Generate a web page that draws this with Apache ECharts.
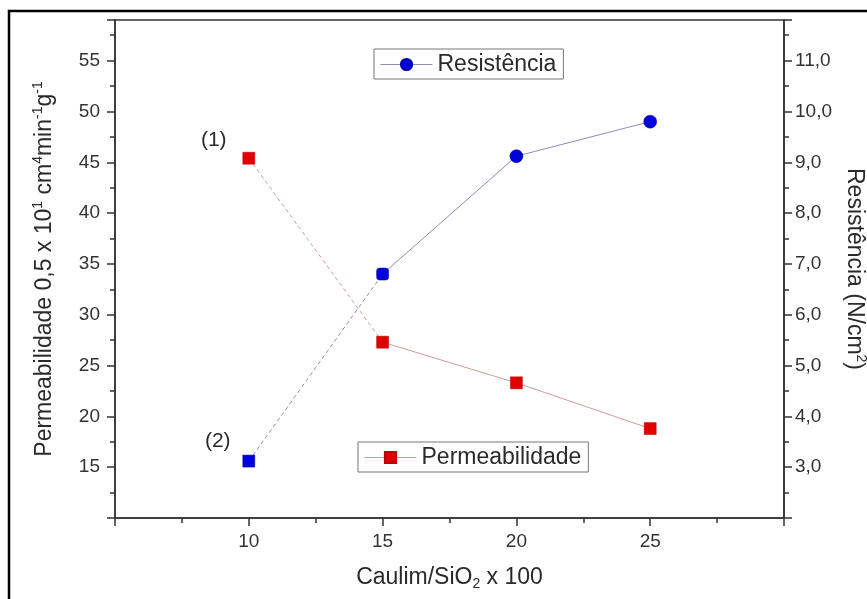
<!DOCTYPE html>
<html>
<head>
<meta charset="utf-8">
<script src="https://cdn.jsdelivr.net/npm/echarts@6/dist/echarts.min.js"></script>
<style>
  html, body { margin: 0; padding: 0; background: #fff; }
  #chart { width: 867px; height: 599px; }
</style>
</head>
<body>
<div id="chart"></div>
<script>
// Kaolin / SiO2 ratio (x 100)
const ratios = [10, 15, 20, 25];
// Permeability, left axis (0,5 x 10^1 cm4 min-1 g-1)
const permeabilidade = [45.4, 27.3, 23.3, 18.8];
// Strength, right axis (N/cm2)
const resistencia = [3.12, 6.8, 9.12, 9.8];
// Tick labels shown on each axis
const xTickLabels = ['10', '15', '20', '25'];
const leftTickLabels = ['15', '20', '25', '30', '35', '40', '45', '50', '55'];
const rightTickLabels = ['3,0', '4,0', '5,0', '6,0', '7,0', '8,0', '9,0', '10,0', '11,0'];

const FONT = '"Liberation Sans", Arial, sans-serif';
const AXIS_COLOR = '#333';
const TEXT_COLOR = '#2a2a2a';

const permColor = '#e00000';
const permLine = '#cf9c9c';
const resColor = '#0000d8';
const resLine = '#8e8eb8';

const pairs = (xs, ys) => xs.map((x, i) => [x, ys[i]]);
const permPts = pairs(ratios, permeabilidade);
const resPts = pairs(ratios, resistencia);

function pick(list, text) { return list.indexOf(text) >= 0 ? text : ''; }

const chart = echarts.init(document.getElementById('chart'), null, { renderer: 'canvas' });

const baseAxis = {
  axisLine: { show: true, onZero: false, lineStyle: { color: AXIS_COLOR, width: 1.5 } },
  axisTick: { show: true, inside: false, length: 8, lineStyle: { color: AXIS_COLOR, width: 1.5 } },
  minorTick: { show: true, splitNumber: 2, length: 5, lineStyle: { color: AXIS_COLOR, width: 1.5 } },
  splitLine: { show: false },
  minorSplitLine: { show: false }
};

const legendBase = {
  itemWidth: 52, itemHeight: 14,
  padding: [4, 7, 3, 6],
  borderColor: '#777', borderWidth: 1,
  textStyle: { fontSize: 23, color: TEXT_COLOR, fontFamily: FONT },
  selectedMode: false
};

const option = {
  animation: false,
  backgroundColor: '#fff',
  textStyle: { fontFamily: FONT },
  grid: {
    left: 115, top: 20, right: 83, bottom: 81,
    outerBoundsMode: 'none',
    containLabel: false,
    show: true, borderColor: AXIS_COLOR, borderWidth: 1.5, backgroundColor: 'transparent'
  },
  graphic: [{
    type: 'rect',
    shape: { x: 9, y: 11, width: 900, height: 700 },
    style: { fill: 'none', stroke: '#000', lineWidth: 2.5 },
    silent: true
  }],
  legend: [
    Object.assign({}, legendBase, {
      data: ['Resistência'],
      left: 374, top: 49,
      lineStyle: { color: resLine, width: 1, opacity: 1 }
    }),
    Object.assign({}, legendBase, {
      data: ['Permeabilidade'],
      left: 358, top: 442,
      lineStyle: { color: permLine, width: 1, opacity: 1 }
    })
  ],
  xAxis: Object.assign({}, baseAxis, {
    type: 'value',
    min: 5, max: 30, interval: 5,
    name: 'Caulim/SiO{sub|2} x 100',
    nameLocation: 'middle',
    nameGap: 46,
    nameTextStyle: {
      fontSize: 23, color: TEXT_COLOR, fontFamily: FONT,
      rich: { sub: { fontSize: 14, verticalAlign: 'bottom', padding: [13, 0, 0, 0], color: TEXT_COLOR, fontFamily: FONT } }
    },
    axisLabel: {
      margin: 14, fontSize: 19, color: AXIS_COLOR, fontFamily: FONT,
      formatter: v => pick(xTickLabels, String(v))
    }
  }),
  yAxis: [
    Object.assign({}, baseAxis, {
      type: 'value',
      position: 'left',
      min: 10, max: 59, interval: 5,
      name: 'Permeabilidade 0,5 x 10{sup|1} cm{sup|4}min{sup|-1}g{sup|-1}',
      nameLocation: 'middle',
      nameRotate: 90,
      nameGap: 57,
      nameTextStyle: {
        fontSize: 23, color: TEXT_COLOR, fontFamily: FONT,
        rich: { sup: { fontSize: 14, padding: [0, 0, 13, 0], color: TEXT_COLOR, fontFamily: FONT } }
      },
      axisLabel: {
        margin: 15, fontSize: 19, color: AXIS_COLOR, fontFamily: FONT,
        formatter: v => pick(leftTickLabels, String(v))
      }
    }),
    Object.assign({}, baseAxis, {
      type: 'value',
      position: 'right',
      min: 2, max: 11.8, interval: 1,
      name: 'Resistência (N/cm{sup|2})',
      nameLocation: 'middle',
      nameRotate: -90,
      nameGap: 52,
      nameTextStyle: {
        fontSize: 23, color: TEXT_COLOR, fontFamily: FONT,
        rich: { sup: { fontSize: 14, padding: [0, 0, 13, 0], color: TEXT_COLOR, fontFamily: FONT } }
      },
      axisLabel: {
        margin: 11, fontSize: 19, color: AXIS_COLOR, fontFamily: FONT,
        formatter: v => pick(rightTickLabels, v.toFixed(1).replace('.', ','))
      }
    })
  ],
  series: [
    // Permeability: dashed first segment, solid after
    {
      name: 'perm-dash', type: 'line', yAxisIndex: 0, silent: true, z: 2,
      data: permPts.slice(0, 2), showSymbol: false,
      lineStyle: { color: permLine, width: 1, type: [4, 3] }
    },
    {
      name: 'perm-solid', type: 'line', yAxisIndex: 0, silent: true, z: 2,
      data: permPts.slice(1), showSymbol: false,
      lineStyle: { color: permLine, width: 1 }
    },
    {
      name: 'Permeabilidade', type: 'line', yAxisIndex: 0, z: 5,
      symbol: 'rect', symbolSize: 12,
      itemStyle: { color: permColor, borderColor: '#c00000', borderWidth: 0.5 },
      lineStyle: { color: permLine, width: 1, opacity: 0 },
      data: permPts.map((p, i) => i === 0 ? {
        value: p,
        label: { show: true, formatter: '(1)', position: 'left', distance: 16, offset: [0, -18],
                 fontSize: 21, color: TEXT_COLOR, fontFamily: FONT }
      } : p)
    },
    // Strength: dashed first segment, solid after
    {
      name: 'res-dash', type: 'line', yAxisIndex: 1, silent: true, z: 2,
      data: resPts.slice(0, 2), showSymbol: false,
      lineStyle: { color: resLine, width: 1, type: [4, 3] }
    },
    {
      name: 'res-solid', type: 'line', yAxisIndex: 1, silent: true, z: 2,
      data: resPts.slice(1), showSymbol: false,
      lineStyle: { color: resLine, width: 1 }
    },
    {
      name: 'Resistência', type: 'line', yAxisIndex: 1, z: 5,
      symbol: 'circle', symbolSize: 13,
      itemStyle: { color: resColor, borderColor: '#0000b0', borderWidth: 0.5 },
      lineStyle: { color: resLine, width: 1, opacity: 0 },
      data: resPts.map((p, i) => {
        if (i === 0) return {
          value: p, symbol: 'rect', symbolSize: 12,
          label: { show: true, formatter: '(2)', position: 'left', distance: 12, offset: [0, -20],
                   fontSize: 21, color: TEXT_COLOR, fontFamily: FONT }
        };
        if (i === 1) return { value: p, symbol: 'roundRect', symbolSize: 12 };
        return p;
      })
    }
  ]
};

chart.setOption(option);
</script>
</body>
</html>
